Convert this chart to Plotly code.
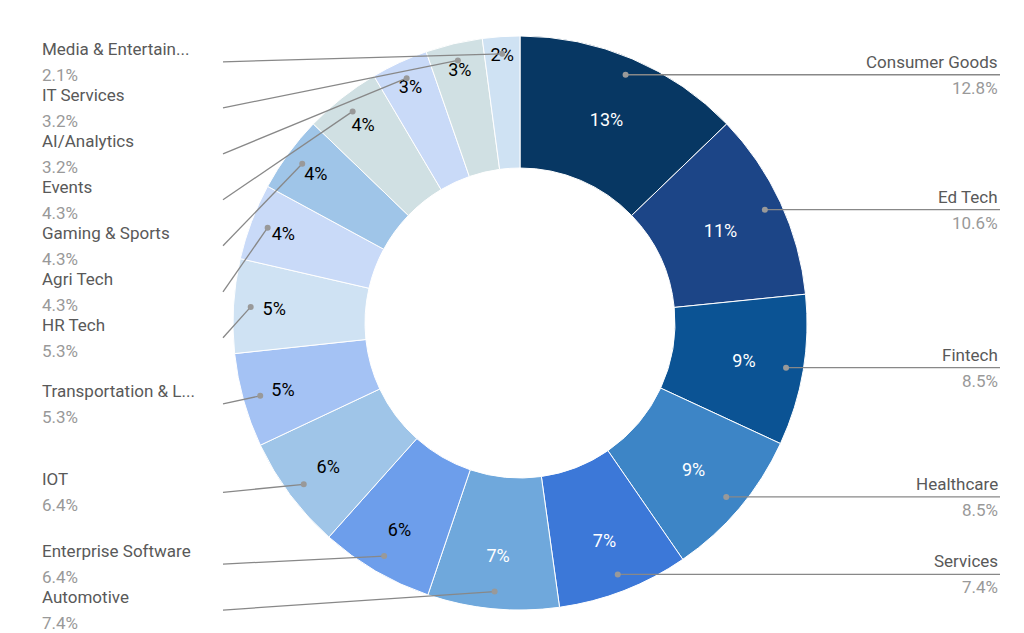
import numpy as np
import plotly.graph_objects as go

labels = ["Consumer Goods", "Ed Tech", "Fintech", "Healthcare", "Services", "Automotive",
          "Enterprise Software", "IOT", "Transportation & L...", "HR Tech", "Agri Tech",
          "Gaming & Sports", "Events", "AI/Analytics", "IT Services", "Media & Entertain..."]
values = [12.8, 10.6, 8.5, 8.5, 7.4, 7.4, 6.4, 6.4, 5.3, 5.3, 4.3, 4.3, 4.3, 3.2, 3.2, 2.1]
colors = ["#073763", "#1c4587", "#0b5394", "#3d85c6", "#3c78d8", "#6fa8dc", "#6d9eeb",
          "#9fc5e8", "#a4c2f4", "#cfe2f3", "#c9daf8", "#9fc5e8", "#d0e0e3", "#c9daf8",
          "#d0e0e3", "#cfe2f3"]
text_colors = ["white"] * 6 + ["black"] * 10

W, H = 1024, 633
cx, cy, R = 512, 315, 287

fig = go.Figure(go.Pie(
    labels=labels, values=values, sort=False, direction="clockwise", rotation=0,
    hole=0.54, marker=dict(colors=colors, line=dict(color="white", width=1)),
    texttemplate="%{percent:.0%}", textposition="inside", insidetextorientation="horizontal",
    textfont=dict(size=18, color=text_colors, family="Roboto"),
    domain=dict(x=[0, 1], y=[(H - cy - R) / H, (H - cy + R) / H]),
    showlegend=False, hoverinfo="label+percent",
))

# outside labels with leader lines, positions derived from the values
total = sum(values)
cum = np.cumsum([0] + values[:-1])
mids = [(c + v / 2) / total * 2 * np.pi for c, v in zip(cum, values)]
rdot = 0.94 * R
dots = [(cx + rdot * np.sin(a), cy - rdot * np.cos(a)) for a in mids]

line_y = [None] * len(values)
prev = -1e9
for i in reversed(range(len(values))):
    x, y = dots[i]
    if x < cx:
        prev = max(y + 8, prev + 46)
        line_y[i] = prev
for i, (x, y) in enumerate(dots):
    if x >= cx:
        line_y[i] = y

shapes, annots = [], []
px = lambda x: x / W
py = lambda y: 1 - y / H
for i, (x, y) in enumerate(dots):
    ly = line_y[i]
    right = x >= cx
    edge = 992 if right else 32
    end = 992 if right else 215
    shapes.append(dict(type="line", xref="paper", yref="paper", x0=px(x), y0=py(y),
                       x1=px(end), y1=py(ly), line=dict(color="#888888", width=1.3)))
    shapes.append(dict(type="circle", xref="paper", yref="paper", x0=px(x - 3), x1=px(x + 3),
                       y0=py(y - 3), y1=py(y + 3), fillcolor="#999999", line=dict(width=0)))
    anchor = "right" if right else "left"
    annots.append(dict(x=px(edge), y=py(ly - 1), xref="paper", yref="paper", text=labels[i],
                       showarrow=False, xanchor=anchor, yanchor="bottom",
                       font=dict(size=17, color="#595959", family="Roboto")))
    annots.append(dict(x=px(edge), y=py(ly + 1), xref="paper", yref="paper", text=f"{values[i]}%",
                       showarrow=False, xanchor=anchor, yanchor="top",
                       font=dict(size=17, color="#999999", family="Roboto")))

fig.update_layout(width=W, height=H, margin=dict(l=0, r=0, t=0, b=0),
                  paper_bgcolor="white", shapes=shapes, annotations=annots)
fig.write_html("out.html")
